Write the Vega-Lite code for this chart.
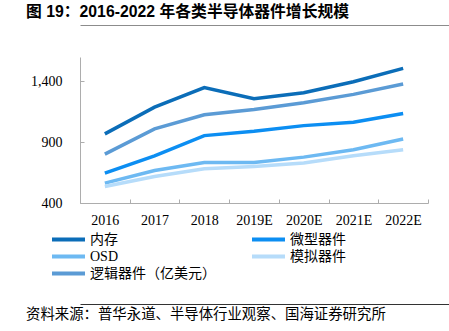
{
  "$schema": "https://vega.github.io/schema/vega-lite/v6.json",
  "padding": {"left": 26, "top": 4, "right": 0, "bottom": 0},
  "background": "white",
  "config": {
    "font": "Liberation Serif, Noto Sans CJK SC",
    "view": {"stroke": null}
  },
  "resolve": {"scale": {"color": "independent"}, "legend": {"color": "independent"}},
  "spacing": 22,
  "vconcat": [
    {
      "spacing": 32,
      "resolve": {"scale": {"color": "independent"}, "legend": {"color": "independent"}},
      "vconcat": [
        {
          "width": 369,
          "height": 20,
          "title": {
            "text": "图 19：2016-2022 年各类半导体器件增长规模",
            "anchor": "start",
            "frame": "group",
            "dx": -54,
            "offset": -16,
            "font": "Liberation Sans, Noto Sans CJK SC",
            "fontSize": 15.8,
            "fontWeight": "bold",
            "color": "#000000"
          },
          "data": {"values": [{"level": 0}]},
          "mark": {"type": "point", "opacity": 0, "size": 1},
          "encoding": {
            "x": {
              "field": "level",
              "type": "quantitative",
              "scale": {"domain": [0, 1], "nice": false},
              "axis": {"orient": "bottom", "title": null, "labels": false, "ticks": false, "grid": false, "domain": true, "domainColor": "#8C8C8C", "domainWidth": 1}
            }
          }
        },
        {
          "width": 348,
          "height": 146,
          "data": {
            "values": [
              {"year": "2016", "series": "内存", "value": 968},
              {"year": "2017", "series": "内存", "value": 1188},
              {"year": "2018", "series": "内存", "value": 1348},
              {"year": "2019E", "series": "内存", "value": 1257},
              {"year": "2020E", "series": "内存", "value": 1306},
              {"year": "2021E", "series": "内存", "value": 1397},
              {"year": "2022E", "series": "内存", "value": 1507},
              {"year": "2016", "series": "微型器件", "value": 645},
              {"year": "2017", "series": "微型器件", "value": 788},
              {"year": "2018", "series": "微型器件", "value": 954},
              {"year": "2019E", "series": "微型器件", "value": 989},
              {"year": "2020E", "series": "微型器件", "value": 1036},
              {"year": "2021E", "series": "微型器件", "value": 1064},
              {"year": "2022E", "series": "微型器件", "value": 1135},
              {"year": "2016", "series": "OSD", "value": 563},
              {"year": "2017", "series": "OSD", "value": 667},
              {"year": "2018", "series": "OSD", "value": 733},
              {"year": "2019E", "series": "OSD", "value": 733},
              {"year": "2020E", "series": "OSD", "value": 777},
              {"year": "2021E", "series": "OSD", "value": 838},
              {"year": "2022E", "series": "OSD", "value": 926},
              {"year": "2016", "series": "模拟器件", "value": 535},
              {"year": "2017", "series": "模拟器件", "value": 618},
              {"year": "2018", "series": "模拟器件", "value": 681},
              {"year": "2019E", "series": "模拟器件", "value": 700},
              {"year": "2020E", "series": "模拟器件", "value": 728},
              {"year": "2021E", "series": "模拟器件", "value": 788},
              {"year": "2022E", "series": "模拟器件", "value": 838},
              {"year": "2016", "series": "逻辑器件（亿美元）", "value": 802},
              {"year": "2017", "series": "逻辑器件（亿美元）", "value": 1009},
              {"year": "2018", "series": "逻辑器件（亿美元）", "value": 1125},
              {"year": "2019E", "series": "逻辑器件（亿美元）", "value": 1169},
              {"year": "2020E", "series": "逻辑器件（亿美元）", "value": 1224},
              {"year": "2021E", "series": "逻辑器件（亿美元）", "value": 1293},
              {"year": "2022E", "series": "逻辑器件（亿美元）", "value": 1378}
            ]
          },
          "mark": {"type": "line", "strokeWidth": 3.5},
          "encoding": {
            "x": {
              "field": "year",
              "type": "ordinal",
              "sort": ["2016", "2017", "2018", "2019E", "2020E", "2021E", "2022E"],
              "bandPosition": 0.5,
              "scale": {"type": "band", "paddingInner": 0, "paddingOuter": 0},
              "axis": {
                "title": null,
                "tickBand": "extent",
                "labelAngle": 0,
                "grid": false,
                "domainColor": "#ADADAD",
                "tickColor": "#ADADAD",
                "tickSize": -4,
                "labelPadding": 14,
                "labelFont": "Liberation Serif",
                "labelFontSize": 14,
                "labelColor": "#000000"
              }
            },
            "y": {
              "field": "value",
              "type": "quantitative",
              "scale": {"domain": [400, 1600], "nice": false, "zero": false},
              "axis": {
                "title": null,
                "values": [400, 900, 1400],
                "format": ",.0f",
                "grid": false,
                "domainColor": "#ADADAD",
                "tickColor": "#ADADAD",
                "tickSize": -4,
                "labelPadding": 22,
                "labelFont": "Liberation Serif",
                "labelFontSize": 14,
                "labelColor": "#000000"
              }
            },
            "color": {
              "field": "series",
              "type": "nominal",
              "scale": {
                "domain": ["内存", "微型器件", "OSD", "模拟器件", "逻辑器件（亿美元）"],
                "range": ["#0B6DB8", "#0C8EF2", "#6DB9F2", "#B6DCFA", "#5B9BD5"]
              },
              "legend": {
                "title": null,
                "orient": "none",
                "direction": "horizontal",
                "legendX": -30,
                "legendY": 174,
                "columns": 2,
                "columnPadding": 34,
                "rowPadding": 0,
                "clipHeight": 17,
                "padding": 0,
                "symbolType": "stroke",
                "symbolSize": 1089,
                "symbolStrokeWidth": 4,
                "labelOffset": 3,
                "labelFont": "Liberation Serif, Noto Sans CJK SC",
                "labelFontSize": 14,
                "labelColor": "#000000",
                "labelLimit": 200
              }
            }
          }
        }
      ]
    },
    {
      "width": 369,
      "height": 20,
      "title": {
        "text": "资料来源：普华永道、半导体行业观察、国海证券研究所",
        "orient": "bottom",
        "anchor": "start",
        "frame": "group",
        "dx": -54,
        "offset": -16,
        "font": "Noto Sans CJK SC",
        "fontSize": 14.4,
        "fontWeight": "normal",
        "color": "#000000"
      },
      "data": {"values": [{"level": 0}]},
      "mark": {"type": "point", "opacity": 0, "size": 1},
      "encoding": {
        "x": {
          "field": "level",
          "type": "quantitative",
          "scale": {"domain": [0, 1], "nice": false},
          "axis": {"orient": "top", "title": null, "labels": false, "ticks": false, "grid": false, "domain": true, "domainColor": "#333333", "domainWidth": 1}
        }
      }
    }
  ]
}
